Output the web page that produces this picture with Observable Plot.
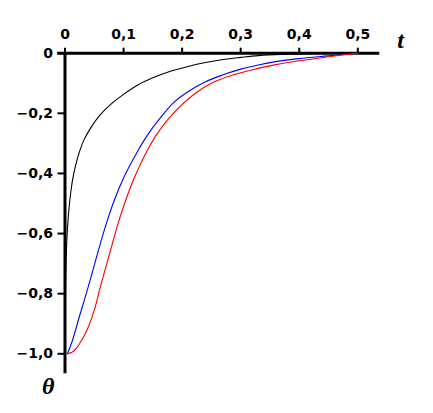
<!DOCTYPE html>
<html>
<head>
<meta charset="utf-8">
<script src="https://cdn.jsdelivr.net/npm/d3@7"></script>
<script src="https://cdn.jsdelivr.net/npm/@observablehq/plot@0.6"></script>
<style>
  html, body { margin: 0; padding: 0; background: #fff; }
  #chart svg { display: block; }
</style>
</head>
<body>
<div id="chart"></div>
<script>
// Tick values
const xTicks = [0, 0.1, 0.2, 0.3, 0.4, 0.5];
const yTicks = [0, -0.2, -0.4, -0.6, -0.8, -1.0];

// Axis labels
const xLabel = "t";
const yLabel = "θ";

// Axis line extents (data units)
const xAxisExtent = [-0.0125, 0.5375];
const yAxisExtent = [0, -1.066];

// Black curve
const blackT = [0, 0.0005, 0.002, 0.005, 0.01, 0.015, 0.022, 0.032, 0.045, 0.06, 0.08, 0.1, 0.125, 0.15, 0.18, 0.21, 0.24, 0.27, 0.3, 0.33, 0.37, 0.42, 0.5];
const blackTheta = [-1, -0.85, -0.68, -0.56, -0.46, -0.4, -0.345, -0.29, -0.245, -0.205, -0.167, -0.137, -0.105, -0.082, -0.06, -0.044, -0.031, -0.021, -0.014, -0.008, -0.004, -0.002, 0];

// Blue curve
const blueT = [0.004, 0.012, 0.024, 0.04, 0.055, 0.07, 0.085, 0.1, 0.12, 0.14, 0.16, 0.185, 0.21, 0.24, 0.27, 0.3, 0.33, 0.36, 0.4, 0.45, 0.5];
const blueTheta = [-1, -0.96, -0.88, -0.775, -0.67, -0.57, -0.485, -0.415, -0.34, -0.275, -0.222, -0.165, -0.128, -0.095, -0.072, -0.053, -0.039, -0.028, -0.018, -0.009, 0];

// Red curve
const redT = [0.003, 0.012, 0.02, 0.03, 0.04, 0.05, 0.06, 0.07, 0.08, 0.09, 0.1, 0.112, 0.125, 0.14, 0.155, 0.175, 0.2, 0.225, 0.25, 0.28, 0.32, 0.36, 0.4, 0.45, 0.5];
const redTheta = [-1, -0.995, -0.98, -0.95, -0.91, -0.855, -0.78, -0.71, -0.64, -0.57, -0.51, -0.445, -0.385, -0.325, -0.275, -0.222, -0.17, -0.13, -0.1, -0.077, -0.055, -0.038, -0.025, -0.012, 0];

const toRows = (ts, vs) => ts.map((t, i) => ({t, v: vs[i]}));
const fmt = d => d === 0 ? "0" : d3.format(".1f")(d).replace(".", ",");

const chart = Plot.plot({
  width: 433,
  height: 413,
  marginLeft: 64.5,
  marginRight: 75.7,
  marginTop: 52.7,
  marginBottom: 59.7,
  style: {fontFamily: "'DejaVu Sans', Verdana, sans-serif", fontWeight: "bold", fontSize: "14px", color: "#000", background: "#fff"},
  x: {domain: [0, 0.5]},
  y: {domain: [-1, 0]},
  marks: [
    Plot.axisX({anchor: "top", ticks: xTicks, tickSize: 6, tickPadding: 8, tickFormat: fmt, strokeWidth: 2, label: null}),
    Plot.axisY({anchor: "left", ticks: yTicks, tickSize: 7, tickPadding: 5, tickFormat: fmt, strokeWidth: 2, label: null}),
    Plot.ruleY([0], {x1: xAxisExtent[0], x2: xAxisExtent[1], stroke: "#000", strokeWidth: 3}),
    Plot.ruleX([0], {y1: yAxisExtent[0], y2: yAxisExtent[1], stroke: "#000", strokeWidth: 3}),
    Plot.line(toRows(blackT, blackTheta), {x: "t", y: "v", stroke: "#000", strokeWidth: 1.1, curve: "catmull-rom"}),
    Plot.line(toRows(blueT, blueTheta), {x: "t", y: "v", stroke: "#0000ff", strokeWidth: 1.1, curve: "catmull-rom"}),
    Plot.line(toRows(redT, redTheta), {x: "t", y: "v", stroke: "#ff0000", strokeWidth: 1.1, curve: "catmull-rom"}),
    Plot.text([xLabel], {frameAnchor: "top-right", dx: 46, dy: -22, fontFamily: "'Liberation Serif', 'Times New Roman', serif", fontStyle: "italic", fontWeight: "bold", fontSize: 24, fill: "#000"}),
    Plot.text([yLabel], {frameAnchor: "bottom-left", dx: -23, dy: 40, fontFamily: "'Liberation Serif', 'Times New Roman', serif", fontStyle: "italic", fontWeight: "bold", fontSize: 24, fill: "#000"})
  ]
});
document.getElementById("chart").append(chart);
</script>
</body>
</html>
